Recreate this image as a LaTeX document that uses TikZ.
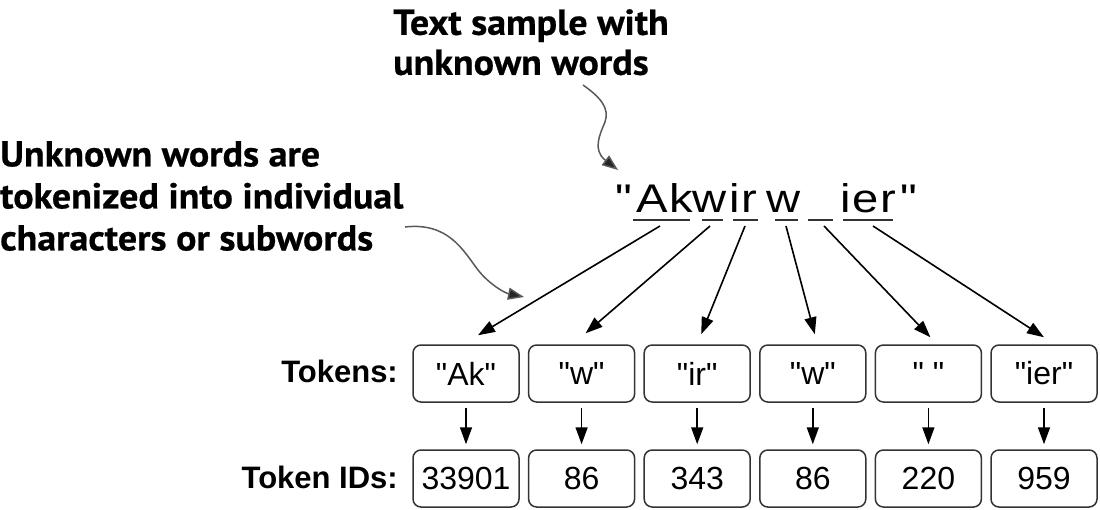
\documentclass[tikz,border=0pt]{standalone}
\usepackage{fontspec}
\setmainfont{Liberation Sans}[Ligatures=ResetAll]
\newfontfamily\plainfont{Liberation Sans}
\newfontfamily\annotfont{PT Sans}[FakeStretch=1.055, BoldFeatures={FakeBold=0.6}]
\newfontfamily\wordfont{Liberation Sans}[FakeStretch=1.18, LetterSpace=4]
\usetikzlibrary{arrows.meta}
\begin{document}
\begin{tikzpicture}[x=1pt,y=-1pt,
  annot/.style={font=\annotfont\bfseries\fontsize{36}{40}\selectfont, align=left, inner sep=0, anchor=north west},
  tok/.style={draw=black!80, line width=1.5pt, rounded corners=8pt, minimum width=106pt, minimum height=57pt, inner sep=0, font=\plainfont\fontsize{32}{38}\selectfont},
  lab/.style={font=\plainfont\bfseries\fontsize{31}{36}\selectfont, inner sep=0, anchor=base east},
  wpiece/.style={font=\wordfont\fontsize{40}{48}\selectfont, anchor=base west, inner sep=0},
  arr/.style={-{Triangle[length=17pt,width=12pt]}, line width=1.6pt},
  curv/.style={-{Triangle[length=16pt,width=12pt,fill=black!85]}, line width=1.5pt, draw=black!65},
  uline/.style={line width=2pt, draw=black!80}
]
\useasboundingbox (0,0) rectangle (1100,509);

% annotations
\node[annot] (ann1) at (393,9) {Text sample with\\unknown words};
\node[annot, font=\annotfont\bfseries\fontsize{36}{42}\selectfont] (ann2) at (0,141) {Unknown words are\\tokenized into individual\\characters or subwords};

% the word "Akwirw ier", set token by token
\node[wpiece] (q1) at (615,212) {"};
\node[wpiece] (w1) at (636,212) {Ak};
\node[wpiece] (w2) at (692,212) {w};
\node[wpiece] (w3) at (729,212) {ir};
\node[wpiece] (w4) at (766,212) {w};
\node[wpiece] (w6) at (840,212) {ier};
\node[wpiece] (q2) at (900,212) {"};

% underlines
\draw[uline] (633,220) -- (690,220);
\draw[uline] (702,220) -- (723,220);
\draw[uline] (733,220) -- (758,220);
\draw[uline] (775,220) -- (798,220);
\draw[uline] (808,220) -- (833,220);
\draw[uline] (843,220) -- (893,220);

\coordinate (s1) at (660,226);
\coordinate (s2) at (710,226);
\coordinate (s3) at (745,226);
\coordinate (s4) at (786,226);
\coordinate (s5) at (824,226);
\coordinate (s6) at (873,226);

% labels
\node[lab] (ltok) at (398,382) {Tokens:};
\node[lab] (lid) at (398,488) {Token IDs:};

% boxes
\foreach \i/\t/\n in {0/"Ak"/33901, 1/"w"/86, 2/"ir"/343, 3/"w"/86, 4/"\ "/220, 5/"ier"/959}{
  \node[tok] (t\i) at (466+115.6*\i,373.5) {\t};
  \node[tok] (d\i) at (466+115.6*\i,478.5) {\n};
  \draw[arr, shorten <=5pt, shorten >=5pt] (t\i.south) -- (d\i.north);
}

% long arrows
\draw[arr] (s1) -- ([xshift=12pt,yshift=9pt]t0.north);
\draw[arr] (s2) -- ([xshift=4pt,yshift=11pt]t1.north);
\draw[arr] (s3) -- ([xshift=4pt,yshift=10pt]t2.north);
\draw[arr] (s4) -- ([xshift=2pt,yshift=10pt]t3.north);
\draw[arr] (s5) -- ([xshift=2pt,yshift=7pt]t4.north);
\draw[arr] (s6) -- ([xshift=0pt,yshift=7pt]t5.north);

% curved callouts
\coordinate (c1a) at (583,85);
\coordinate (c1b) at (618,170);
\draw[curv] (c1a) .. controls (600,97) and (610,108) .. (605,122) .. controls (600,134) and (592,150) .. (c1b);
\coordinate (c2a) at (405,227);
\coordinate (c2b) at (524,297);
\draw[curv] (c2a) .. controls (448,222) and (463,250) .. (478,270) .. controls (490,285) and (505,293) .. (c2b);
\end{tikzpicture}
\end{document}
